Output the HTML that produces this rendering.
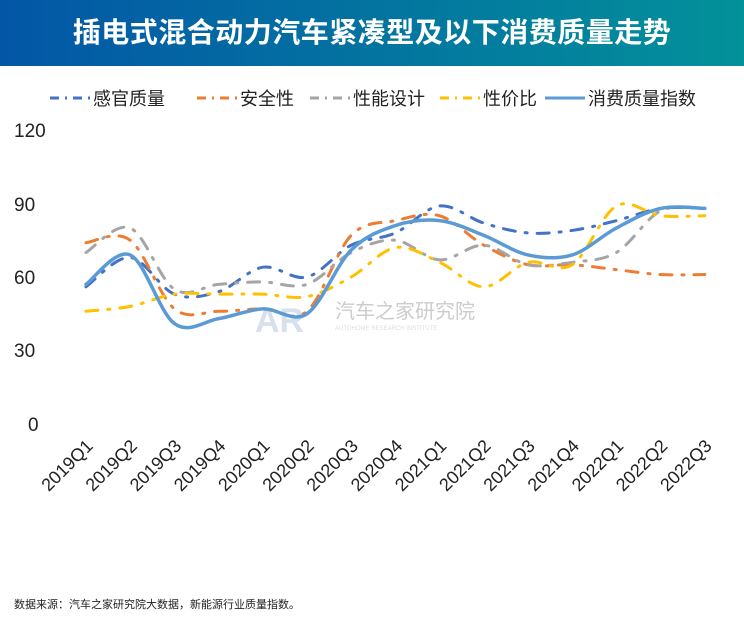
<!DOCTYPE html>
<html><head><meta charset="utf-8"><style>
body{margin:0;width:744px;height:628px;background:#fff;overflow:hidden;font-family:"Liberation Sans","Noto Sans CJK SC",sans-serif}
.hdr{position:absolute;left:0;top:0;width:744px;height:66px;background:linear-gradient(90deg,#0356a6,#03919a);color:#fff;font-size:28px;font-weight:bold;text-align:center;line-height:66px;letter-spacing:0.5px}
.foot{position:absolute;left:14px;top:596px;font-size:11px;color:#222}
</style></head><body>
<div class="hdr">插电式混合动力汽车紧凑型及以下消费质量走势</div>
<svg id="s" width="744" height="628" style="position:absolute;left:0;top:0" font-family="Liberation Sans, Noto Sans CJK SC, sans-serif"></svg>
<div class="foot">数据来源：汽车之家研究院大数据，新能源行业质量指数。</div>
<script>
const s=document.getElementById('s');
const X=i=>86+i*44.2, Y=v=>424-v*2.45;
const series=[
 {c:'#4472c4',d:'12 10 2 10',w:3,v:[56,68,53,54,64,60,73,78,89,82,78,79,83,88,88]},
 {c:'#ed7d31',d:'12 10 2 10',w:3,v:[74,75,47,46,47,46,77,83,85,73,65,65,63,61,61]},
 {c:'#a5a5a5',d:'12 10 2 10',w:3,v:[70,80,55,57,58,57,70,75,67,73,65,66,70,87,88]},
 {c:'#ffc000',d:'12 10 2 10',w:3,v:[46,48,53,53,53,52,60,72,66,56,66,65,89,85,85]},
 {c:'#5b9bd5',d:'',w:3.5,v:[57,69,41,43,47,45,71,81,83,77,69,69,80,88,88]}];
let h='';
[[120,130],[90,204],[60,277],[30,350],[0,424]].forEach(([t,y])=>{h+=`<text x="${t?14:28}" y="${y+7}" font-size="19" fill="#222">${t}</text>`});
h+=`<text x="335" y="318" font-size="20" fill="#ccc">汽车之家研究院</text><text x="335" y="330" font-size="6" fill="#ddd">AUTOHOME RESEARCH INSTITUTE</text><text x="255" y="332" font-size="34" font-weight="bold" fill="#c8d4e6" opacity="0.7">AR</text>`;
series.forEach(o=>{const p=o.v.map((v,i)=>[X(i),Y(v)]);let d=`M${p[0]}`;
 for(let i=0;i<p.length-1;i++){const a=p[Math.max(i-1,0)],b=p[i],c=p[i+1],e=p[Math.min(i+2,p.length-1)];
 d+=`C${b[0]+(c[0]-a[0])/6},${b[1]+(c[1]-a[1])/6} ${c[0]-(e[0]-b[0])/6},${c[1]-(e[1]-b[1])/6} ${c[0]},${c[1]}`;}
 h+=`<path d="${d}" fill="none" stroke="${o.c}" stroke-width="${o.w}" stroke-dasharray="${o.d}" stroke-linecap="round"/>`;});
const L=['2019Q1','2019Q2','2019Q3','2019Q4','2020Q1','2020Q2','2020Q3','2020Q4','2021Q1','2021Q2','2021Q3','2021Q4','2022Q1','2022Q2','2022Q3'];
L.forEach((t,i)=>{h+=`<text transform="translate(${X(i)+8},447) rotate(-45)" text-anchor="end" font-size="18" fill="#222">${t}</text>`});
const lg=[['感官质量',50],['安全性',197],['性能设计',310],['性价比',440],['消费质量指数',545]];
lg.forEach(([t,x],i)=>{const o=series[i];
 h+= i<4?`<line x1="${x}" y1="98" x2="${x+40}" y2="98" stroke="${o.c}" stroke-width="3" stroke-dasharray="9 6 2 6"/>`:`<line x1="${x}" y1="98" x2="${x+40}" y2="98" stroke="${o.c}" stroke-width="3"/>`;
 h+=`<text x="${x+43}" y="105" font-size="18" fill="#222">${t}</text>`;});
s.innerHTML=h;
</script>
</body></html>
